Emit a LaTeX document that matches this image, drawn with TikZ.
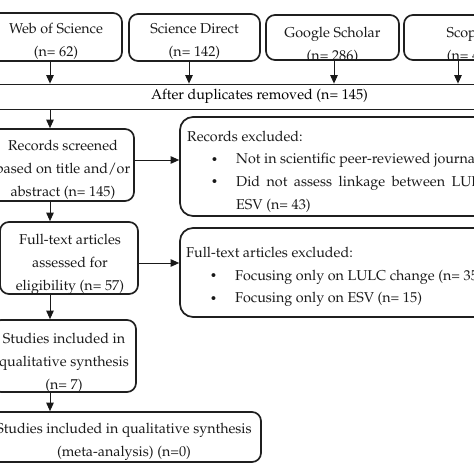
\documentclass[tikz,border=0pt]{standalone}
\usepackage[T1]{fontenc}
\usepackage{mathpazo}
\usepackage{graphicx}
\usetikzlibrary{arrows.meta}
\begin{document}
\begin{tikzpicture}[x=1pt,y=-1pt,
  box/.style={draw=black!88, line width=1.7pt, rounded corners=9pt, inner sep=0pt},
  bigbox/.style={box, rounded corners=13pt},
  plainbox/.style={draw=black!88, line width=1.3pt, inner sep=0pt},
  txt/.style={inner sep=0pt, align=center, font=\fontsize{14.3}{23}\selectfont, text=black!90},
  ltxt/.style={inner sep=0pt, align=left, font=\fontsize{14.3}{22.7}\selectfont, text=black!90},
  arr/.style={-{Triangle[length=8.5pt,width=7.5pt]}, line width=0.9pt, draw=black!90},
]
\useasboundingbox (0,0) rectangle (474,474);
\clip (0,0) rectangle (474,474);
\newcommand{\bul}{\makebox[49pt][l]{\hspace{24pt}\raisebox{0.5pt}{\scalebox{0.8}{\textbullet}}}}

% top source boxes
\node[box, minimum width=132pt, minimum height=48pt] (wos) at (56,37) {};
\node[box, minimum width=131pt, minimum height=47pt] (sd) at (194.5,37.5) {};
\node[box, minimum width=133pt, minimum height=45pt] (gs) at (332.5,37.5) {};
\node[box, minimum width=142pt, minimum height=45pt] (sc) at (475,37.5) {};
\node[txt] (wost) at (56,41.5) {Web of Science\\(n= 62)};
\node[txt] (sdt) at (194.5,41.5) {Science Direct\\(n= 142)};
\begin{scope}
\clip (gs.north west) rectangle (gs.south east);
\node[txt] (gst) at (332.5,45) {Google Scholar\\(n= 286)};
\end{scope}
\begin{scope}
\clip (sc.north west) rectangle (sc.south east);
\node[txt] (sct) at (469,46) {Scopus\\(n= 45)};
\end{scope}

% after duplicates
\node[plainbox, minimum width=560pt, minimum height=25pt, font=\fontsize{14.3}{23}\selectfont] (dup) at (259.5,96.75) {After duplicates removed (n= 145)};

% records screened
\node[box, minimum width=144pt, minimum height=72pt] (scr) at (62,165) {};
\node[txt] (scrt) at (63,170) {Records screened\\based on title and/or\\abstract (n= 145)};

% records excluded
\node[bigbox, minimum width=380pt, minimum height=99pt] (rex) at (370,166.5) {};
\node[ltxt, anchor=north west] (rext) at (187,130.5) {Records excluded:\\
\bul Not in scientific peer-reviewed journals (n= 102)\\
\bul {\spaceskip=6.5pt Did not assess linkage between LULC and}\\
\makebox[49pt]{}ESV (n= 43)};

% full-text
\node[box, minimum width=138pt, minimum height=72pt] (ft) at (69,258) {};
\node[txt] (ftt) at (70,264.5) {Full-text articles\\assessed for\\eligibility (n= 57)};

% full-text excluded
\node[bigbox, minimum width=380pt, minimum height=89pt] (fex) at (370,272.5) {};
\node[ltxt, anchor=north west] (fext) at (186,247) {Full-text articles excluded:\\
\bul Focusing only on LULC change (n= 35)\\
\bul Focusing only on ESV (n= 15)};

% studies included
\node[box, minimum width=144pt, minimum height=72pt] (stu) at (64,356) {};
\begin{scope}
\clip (stu.north west) rectangle (stu.south east);
\node[txt] (stut) at (64,363) {Studies included in\\qualitative synthesis\\(n= 7)};
\end{scope}

% meta-analysis
\node[box, minimum width=274pt, minimum height=50pt] (meta) at (124,437) {};
\node[txt] (metat) at (124,441.5) {Studies included in qualitative synthesis\\(meta-analysis) (n=0)};

% arrows
\draw[arr] ([xshift=-6pt]wos.south) -- ([xshift=-6pt]wos.south |- dup.north);
\draw[arr] ([xshift=-5.5pt]sd.south) -- ([xshift=-5.5pt]sd.south |- dup.north);
\draw[arr] ([xshift=1.5pt]gs.south) -- ([xshift=1.5pt]gs.south |- dup.north);
\draw[arr] ([xshift=-17pt]sc.south) -- ([xshift=-17pt]sc.south |- dup.north);
\draw[arr] ([xshift=-12pt]scr.north |- dup.south) -- ([xshift=-12pt]scr.north);
\draw[arr] ([yshift=5pt]scr.east) -- ([yshift=5pt]scr.east -| rex.west);
\draw[arr] ([xshift=-12pt]scr.south) -- ([xshift=-12pt]scr.south |- ft.north);
\draw[arr] ([yshift=-5pt]ft.east) -- ([yshift=-5pt]ft.east -| fex.west);
\draw[arr] ([xshift=-19pt]ft.south) -- ([xshift=-19pt]ft.south |- stu.north);
\draw[arr] ([xshift=-14pt]stu.south) -- ([xshift=-14pt]stu.south |- meta.north);
\end{tikzpicture}
\end{document}
